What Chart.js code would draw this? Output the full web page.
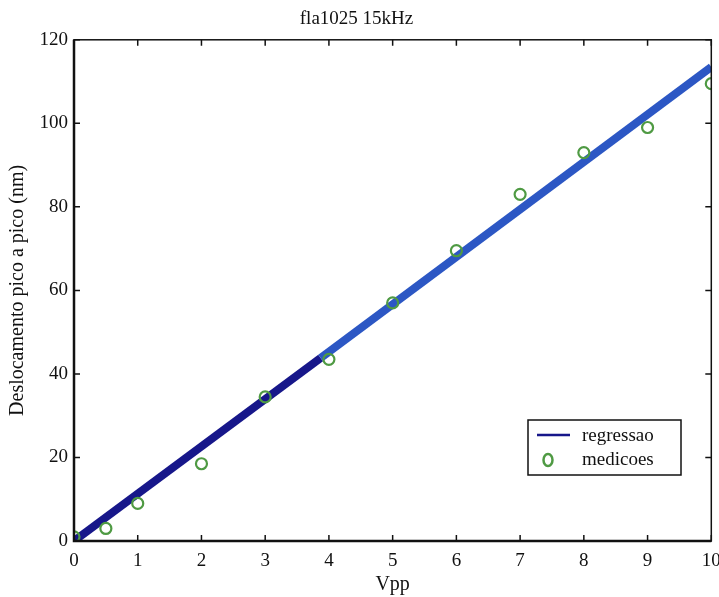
<!DOCTYPE html>
<html lang="pt-br">
<head>
<meta charset="UTF-8">
<title>fla1025 15kHz</title>
<script src="https://cdn.jsdelivr.net/npm/chart.js"></script>
<style>
    html, body {
        margin: 0;
        padding: 0;
        background-color: #fff;
    }
    #grafico {
        display: block;
    }
</style>
</head>
<body>
<canvas id="grafico" width="719" height="597"></canvas>
<script>
    // Medições (Vpp x deslocamento em nm)
    var vpp = [0, 0.5, 1, 2, 3, 4, 5, 6, 7, 8, 9, 10];
    var medicoes = [1, 3, 9, 18.5, 34.5, 43.5, 57, 69.5, 83, 93, 99, 109.5];

    // Reta de regressão, em dois trechos (cor mais escura no início)
    var regX1 = [0, 3.87];
    var regY1 = [0, 43.8];
    var regX2 = [3.87, 10];
    var regY2 = [43.8, 113.5];

    var xTicks = [0, 1, 2, 3, 4, 5, 6, 7, 8, 9, 10];
    var yTicks = [0, 20, 40, 60, 80, 100, 120];

    function pontos(xs, ys) {
        return xs.map(function (x, i) { return { x: x, y: ys[i] }; });
    }

    var fonte = 'Liberation Serif, Times New Roman, serif';
    var corEscura = '#17178a';
    var corAzul = '#2c57c4';
    var corVerde = '#4f9a43';

    // Moldura com marcas para dentro, como no MATLAB
    var moldura = {
        id: 'moldura',
        afterDatasetsDraw: function (chart) {
            var ctx = chart.ctx;
            var a = chart.chartArea;
            var sx = chart.scales.x, sy = chart.scales.y;
            var t = 6;
            ctx.save();
            ctx.strokeStyle = '#111';
            ctx.lineWidth = 1.5;
            ctx.strokeRect(a.left, a.top, a.right - a.left, a.bottom - a.top);
            ctx.lineWidth = 2.5;
            ctx.beginPath();
            ctx.moveTo(a.left, a.top);
            ctx.lineTo(a.left, a.bottom);
            ctx.lineTo(a.right, a.bottom);
            ctx.stroke();
            ctx.lineWidth = 1.5;
            ctx.beginPath();
            xTicks.forEach(function (v) {
                var px = sx.getPixelForValue(v);
                ctx.moveTo(px, a.bottom);
                ctx.lineTo(px, a.bottom - t);
                ctx.moveTo(px, a.top);
                ctx.lineTo(px, a.top + t);
            });
            yTicks.forEach(function (v) {
                var py = sy.getPixelForValue(v);
                ctx.moveTo(a.left, py);
                ctx.lineTo(a.left + t, py);
                ctx.moveTo(a.right, py);
                ctx.lineTo(a.right - t, py);
            });
            ctx.stroke();
            ctx.restore();
        }
    };

    // Legenda dentro da área do gráfico
    var legenda = {
        id: 'legenda',
        afterDraw: function (chart) {
            var ctx = chart.ctx;
            var x = 528, y = 420, w = 153, h = 55;
            ctx.save();
            ctx.fillStyle = '#fff';
            ctx.fillRect(x, y, w, h);
            ctx.strokeStyle = '#111';
            ctx.lineWidth = 1.5;
            ctx.strokeRect(x, y, w, h);
            ctx.strokeStyle = corEscura;
            ctx.lineWidth = 2.5;
            ctx.beginPath();
            ctx.moveTo(x + 9, y + 15);
            ctx.lineTo(x + 42, y + 15);
            ctx.stroke();
            ctx.strokeStyle = corVerde;
            ctx.lineWidth = 2.5;
            ctx.beginPath();
            ctx.ellipse(x + 20, y + 40, 4.5, 6, 0, 0, Math.PI * 2);
            ctx.stroke();
            ctx.fillStyle = '#111';
            ctx.font = '19px ' + fonte;
            ctx.textBaseline = 'middle';
            ctx.fillText(chart.data.datasets[0].label, x + 54, y + 16);
            ctx.fillText(chart.data.datasets[2].label, x + 54, y + 40);
            ctx.restore();
        }
    };

    var ctx = document.getElementById('grafico').getContext('2d');
    var grafico = new Chart(ctx, {
        type: 'scatter',
        data: {
            datasets: [
                {
                    label: 'regressao',
                    type: 'line',
                    data: pontos(regX1, regY1),
                    borderColor: corEscura,
                    borderWidth: 8,
                    pointRadius: 0,
                    fill: false,
                    order: 3
                },
                {
                    label: 'regressao',
                    type: 'line',
                    data: pontos(regX2, regY2),
                    borderColor: corAzul,
                    borderWidth: 8,
                    pointRadius: 0,
                    fill: false,
                    order: 2
                },
                {
                    label: 'medicoes',
                    data: pontos(vpp, medicoes),
                    pointStyle: 'circle',
                    pointRadius: 5.5,
                    pointBorderWidth: 2.2,
                    borderColor: corVerde,
                    backgroundColor: 'rgba(0,0,0,0)',
                    order: 1
                }
            ]
        },
        options: {
            responsive: false,
            animation: false,
            layout: { padding: { left: 0, right: 6, top: 0, bottom: 0 } },
            plugins: {
                legend: { display: false },
                tooltip: { enabled: false },
                title: {
                    display: true,
                    text: 'fla1025 15kHz',
                    color: '#111',
                    font: { family: fonte, size: 19, weight: 'normal' },
                    padding: { top: 8, bottom: 9 }
                }
            },
            scales: {
                x: {
                    type: 'linear',
                    min: 0,
                    max: 10,
                    afterBuildTicks: function (s) { s.ticks = xTicks.map(function (v) { return { value: v }; }); },
                    afterFit: function (s) { s.height = 56; s.paddingLeft = 0; s.paddingRight = 0; },
                    grid: { display: false, drawTicks: false },
                    border: { display: false },
                    ticks: { color: '#111', padding: 9, maxRotation: 0, font: { family: fonte, size: 19 } },
                    title: {
                        display: true,
                        text: 'Vpp',
                        color: '#111',
                        font: { family: fonte, size: 20 },
                        padding: { top: 0, bottom: 0 }
                    }
                },
                y: {
                    type: 'linear',
                    min: 0,
                    max: 120,
                    afterBuildTicks: function (s) { s.ticks = yTicks.map(function (v) { return { value: v }; }); },
                    afterFit: function (s) { s.width = 74; s.paddingTop = 0; s.paddingBottom = 0; },
                    grid: { display: false, drawTicks: false },
                    border: { display: false },
                    ticks: { color: '#111', padding: 6, font: { family: fonte, size: 19 } },
                    title: {
                        display: true,
                        text: 'Deslocamento pico a pico (nm)',
                        color: '#111',
                        font: { family: fonte, size: 20 },
                        padding: { top: 6, bottom: 4 }
                    }
                }
            }
        },
        plugins: [moldura, legenda]
    });
</script>
</body>
</html>
